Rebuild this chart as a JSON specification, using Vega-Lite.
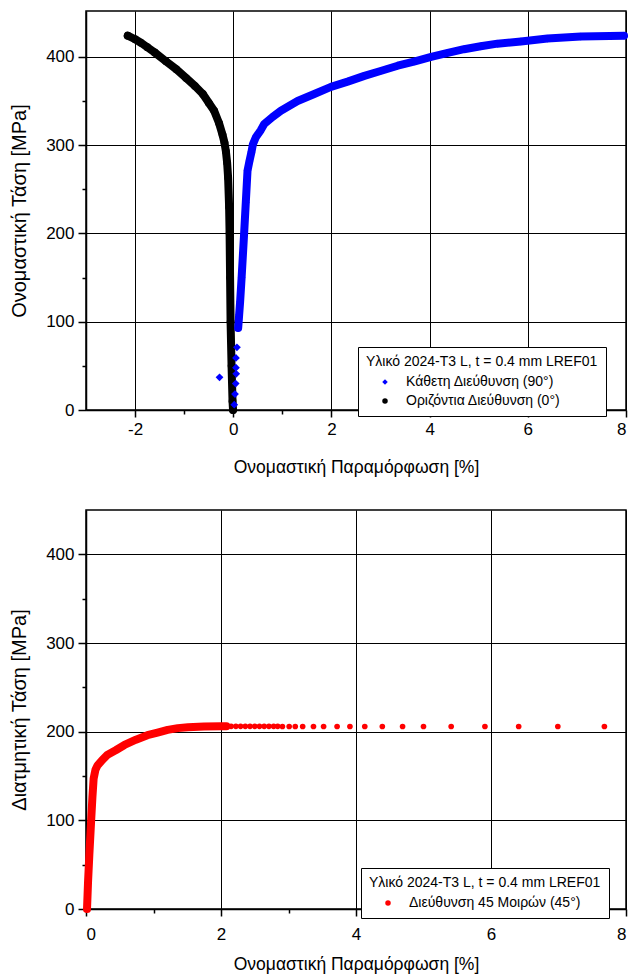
{
  "$schema": "https://vega.github.io/schema/vega-lite/v6.json",
  "padding": {"left": 8, "top": 10, "right": 3, "bottom": 0},
  "autosize": {"type": "pad"},
  "spacing": 32,
  "config": {
    "font": "Liberation Sans",
    "view": {"stroke": "black", "strokeWidth": 1.5},
    "axis": {
      "domainColor": "black", "domainWidth": 1.5,
      "tickColor": "black", "tickWidth": 1.5,
      "labelFont": "Liberation Sans", "labelFontSize": 17, "labelColor": "black",
      "titleFont": "Liberation Sans", "titleFontWeight": "normal", "titleColor": "black",
      "gridColor": "black", "gridWidth": 1
    },
    "legend": {
      "orient": "none",
      "strokeColor": "black", "fillColor": "white", "padding": 8,
      "titleFont": "Liberation Sans", "titleFontSize": 14, "titleFontWeight": "normal", "titleColor": "black",
      "labelFont": "Liberation Sans", "labelFontSize": 14, "labelColor": "black",
      "titleLimit": 600, "labelLimit": 600,
      "symbolOffset": 12, "labelOffset": 14, "rowPadding": 5, "titlePadding": 6,
      "symbolSize": 30, "symbolStrokeWidth": 0
    }
  },
  "datasets": {
    "top": [
      {"series": "Οριζόντια Διεύθυνση (0°)", "strain": -0.005, "stress": 0},
      {"series": "Οριζόντια Διεύθυνση (0°)", "strain": -0.015, "stress": 10},
      {"series": "Οριζόντια Διεύθυνση (0°)", "strain": -0.035, "stress": 50},
      {"series": "Οριζόντια Διεύθυνση (0°)", "strain": -0.055, "stress": 100},
      {"series": "Οριζόντια Διεύθυνση (0°)", "strain": -0.065, "stress": 150},
      {"series": "Οριζόντια Διεύθυνση (0°)", "strain": -0.075, "stress": 200},
      {"series": "Οριζόντια Διεύθυνση (0°)", "strain": -0.085, "stress": 230},
      {"series": "Οριζόντια Διεύθυνση (0°)", "strain": -0.105, "stress": 263},
      {"series": "Οριζόντια Διεύθυνση (0°)", "strain": -0.125, "stress": 280},
      {"series": "Οριζόντια Διεύθυνση (0°)", "strain": -0.15, "stress": 293},
      {"series": "Οριζόντια Διεύθυνση (0°)", "strain": -0.18, "stress": 303},
      {"series": "Οριζόντια Διεύθυνση (0°)", "strain": -0.22, "stress": 312},
      {"series": "Οριζόντια Διεύθυνση (0°)", "strain": -0.29, "stress": 325},
      {"series": "Οριζόντια Διεύθυνση (0°)", "strain": -0.39, "stress": 339},
      {"series": "Οριζόντια Διεύθυνση (0°)", "strain": -0.5, "stress": 348},
      {"series": "Οριζόντια Διεύθυνση (0°)", "strain": -0.62, "stress": 358},
      {"series": "Οριζόντια Διεύθυνση (0°)", "strain": -0.78, "stress": 367},
      {"series": "Οριζόντια Διεύθυνση (0°)", "strain": -0.96, "stress": 376},
      {"series": "Οριζόντια Διεύθυνση (0°)", "strain": -1.16, "stress": 386},
      {"series": "Οριζόντια Διεύθυνση (0°)", "strain": -1.37, "stress": 395},
      {"series": "Οριζόντια Διεύθυνση (0°)", "strain": -1.6, "stress": 405},
      {"series": "Οριζόντια Διεύθυνση (0°)", "strain": -1.75, "stress": 411},
      {"series": "Οριζόντια Διεύθυνση (0°)", "strain": -1.88, "stress": 416},
      {"series": "Οριζόντια Διεύθυνση (0°)", "strain": -2.0, "stress": 420},
      {"series": "Οριζόντια Διεύθυνση (0°)", "strain": -2.15, "stress": 424},
      {"series": "Κάθετη Διεύθυνση (90°)", "strain": -0.28, "stress": 37},
      {"series": "Κάθετη Διεύθυνση (90°)", "strain": 0.02, "stress": 6},
      {"series": "Κάθετη Διεύθυνση (90°)", "strain": 0.035, "stress": 18},
      {"series": "Κάθετη Διεύθυνση (90°)", "strain": 0.05, "stress": 30},
      {"series": "Κάθετη Διεύθυνση (90°)", "strain": 0.06, "stress": 41},
      {"series": "Κάθετη Διεύθυνση (90°)", "strain": 0.055, "stress": 48},
      {"series": "Κάθετη Διεύθυνση (90°)", "strain": 0.055, "stress": 59},
      {"series": "Κάθετη Διεύθυνση (90°)", "strain": 0.075, "stress": 71},
      {"series": "Κάθετη Διεύθυνση (90°)", "strain": 0.1, "stress": 93},
      {"series": "Κάθετη Διεύθυνση (90°)", "strain": 0.12, "stress": 108},
      {"series": "Κάθετη Διεύθυνση (90°)", "strain": 0.14, "stress": 123},
      {"series": "Κάθετη Διεύθυνση (90°)", "strain": 0.17, "stress": 150},
      {"series": "Κάθετη Διεύθυνση (90°)", "strain": 0.22, "stress": 199},
      {"series": "Κάθετη Διεύθυνση (90°)", "strain": 0.255, "stress": 235},
      {"series": "Κάθετη Διεύθυνση (90°)", "strain": 0.29, "stress": 271},
      {"series": "Κάθετη Διεύθυνση (90°)", "strain": 0.33, "stress": 282},
      {"series": "Κάθετη Διεύθυνση (90°)", "strain": 0.37, "stress": 292},
      {"series": "Κάθετη Διεύθυνση (90°)", "strain": 0.40, "stress": 301},
      {"series": "Κάθετη Διεύθυνση (90°)", "strain": 0.46, "stress": 309},
      {"series": "Κάθετη Διεύθυνση (90°)", "strain": 0.56, "stress": 317},
      {"series": "Κάθετη Διεύθυνση (90°)", "strain": 0.63, "stress": 324},
      {"series": "Κάθετη Διεύθυνση (90°)", "strain": 0.8, "stress": 332},
      {"series": "Κάθετη Διεύθυνση (90°)", "strain": 0.97, "stress": 339},
      {"series": "Κάθετη Διεύθυνση (90°)", "strain": 1.31, "stress": 350},
      {"series": "Κάθετη Διεύθυνση (90°)", "strain": 1.65, "stress": 358},
      {"series": "Κάθετη Διεύθυνση (90°)", "strain": 1.99, "stress": 366},
      {"series": "Κάθετη Διεύθυνση (90°)", "strain": 2.33, "stress": 372},
      {"series": "Κάθετη Διεύθυνση (90°)", "strain": 2.67, "stress": 378.5},
      {"series": "Κάθετη Διεύθυνση (90°)", "strain": 3.0, "stress": 384},
      {"series": "Κάθετη Διεύθυνση (90°)", "strain": 3.35, "stress": 390},
      {"series": "Κάθετη Διεύθυνση (90°)", "strain": 3.7, "stress": 395},
      {"series": "Κάθετη Διεύθυνση (90°)", "strain": 4.03, "stress": 400},
      {"series": "Κάθετη Διεύθυνση (90°)", "strain": 4.37, "stress": 404.5},
      {"series": "Κάθετη Διεύθυνση (90°)", "strain": 4.7, "stress": 408.7},
      {"series": "Κάθετη Διεύθυνση (90°)", "strain": 5.04, "stress": 412},
      {"series": "Κάθετη Διεύθυνση (90°)", "strain": 5.38, "stress": 415},
      {"series": "Κάθετη Διεύθυνση (90°)", "strain": 5.86, "stress": 417.5},
      {"series": "Κάθετη Διεύθυνση (90°)", "strain": 6.4, "stress": 420.8},
      {"series": "Κάθετη Διεύθυνση (90°)", "strain": 7.08, "stress": 423},
      {"series": "Κάθετη Διεύθυνση (90°)", "strain": 7.96, "stress": 424}
    ],
    "bottom": [
      {"series": "Διεύθυνση 45 Μοιρών (45°)", "strain": 0.015, "stress": 0},
      {"series": "Διεύθυνση 45 Μοιρών (45°)", "strain": 0.03, "stress": 30},
      {"series": "Διεύθυνση 45 Μοιρών (45°)", "strain": 0.05, "stress": 62},
      {"series": "Διεύθυνση 45 Μοιρών (45°)", "strain": 0.075, "stress": 98},
      {"series": "Διεύθυνση 45 Μοιρών (45°)", "strain": 0.095, "stress": 126},
      {"series": "Διεύθυνση 45 Μοιρών (45°)", "strain": 0.113, "stress": 147},
      {"series": "Διεύθυνση 45 Μοιρών (45°)", "strain": 0.14, "stress": 157},
      {"series": "Διεύθυνση 45 Μοιρών (45°)", "strain": 0.172, "stress": 162},
      {"series": "Διεύθυνση 45 Μοιρών (45°)", "strain": 0.24, "stress": 168},
      {"series": "Διεύθυνση 45 Μοιρών (45°)", "strain": 0.32, "stress": 174},
      {"series": "Διεύθυνση 45 Μοιρών (45°)", "strain": 0.44, "stress": 179},
      {"series": "Διεύθυνση 45 Μοιρών (45°)", "strain": 0.57, "stress": 185},
      {"series": "Διεύθυνση 45 Μοιρών (45°)", "strain": 0.74, "stress": 191},
      {"series": "Διεύθυνση 45 Μοιρών (45°)", "strain": 0.91, "stress": 196},
      {"series": "Διεύθυνση 45 Μοιρών (45°)", "strain": 1.06, "stress": 199},
      {"series": "Διεύθυνση 45 Μοιρών (45°)", "strain": 1.21, "stress": 202},
      {"series": "Διεύθυνση 45 Μοιρών (45°)", "strain": 1.36, "stress": 204},
      {"series": "Διεύθυνση 45 Μοιρών (45°)", "strain": 1.51, "stress": 205},
      {"series": "Διεύθυνση 45 Μοιρών (45°)", "strain": 1.75, "stress": 205.8},
      {"series": "Διεύθυνση 45 Μοιρών (45°)", "strain": 2.0, "stress": 206},
      {"series": "Διεύθυνση 45 Μοιρών (45°)", "strain": 2.08, "stress": 206},
      {"series": "Διεύθυνση 45 Μοιρών (45°)", "strain": 2.15, "stress": 206},
      {"series": "Διεύθυνση 45 Μοιρών (45°)", "strain": 2.22, "stress": 206},
      {"series": "Διεύθυνση 45 Μοιρών (45°)", "strain": 2.29, "stress": 206},
      {"series": "Διεύθυνση 45 Μοιρών (45°)", "strain": 2.36, "stress": 206},
      {"series": "Διεύθυνση 45 Μοιρών (45°)", "strain": 2.43, "stress": 206},
      {"series": "Διεύθυνση 45 Μοιρών (45°)", "strain": 2.5, "stress": 206},
      {"series": "Διεύθυνση 45 Μοιρών (45°)", "strain": 2.57, "stress": 206},
      {"series": "Διεύθυνση 45 Μοιρών (45°)", "strain": 2.64, "stress": 206},
      {"series": "Διεύθυνση 45 Μοιρών (45°)", "strain": 2.71, "stress": 206},
      {"series": "Διεύθυνση 45 Μοιρών (45°)", "strain": 2.78, "stress": 206},
      {"series": "Διεύθυνση 45 Μοιρών (45°)", "strain": 2.84, "stress": 206},
      {"series": "Διεύθυνση 45 Μοιρών (45°)", "strain": 2.91, "stress": 205.8},
      {"series": "Διεύθυνση 45 Μοιρών (45°)", "strain": 3.01, "stress": 205.8},
      {"series": "Διεύθυνση 45 Μοιρών (45°)", "strain": 3.1, "stress": 205.8},
      {"series": "Διεύθυνση 45 Μοιρών (45°)", "strain": 3.21, "stress": 205.8},
      {"series": "Διεύθυνση 45 Μοιρών (45°)", "strain": 3.37, "stress": 205.8},
      {"series": "Διεύθυνση 45 Μοιρών (45°)", "strain": 3.52, "stress": 205.8},
      {"series": "Διεύθυνση 45 Μοιρών (45°)", "strain": 3.72, "stress": 205.8},
      {"series": "Διεύθυνση 45 Μοιρών (45°)", "strain": 3.91, "stress": 205.8},
      {"series": "Διεύθυνση 45 Μοιρών (45°)", "strain": 4.13, "stress": 205.8},
      {"series": "Διεύθυνση 45 Μοιρών (45°)", "strain": 4.39, "stress": 205.8},
      {"series": "Διεύθυνση 45 Μοιρών (45°)", "strain": 4.69, "stress": 205.8},
      {"series": "Διεύθυνση 45 Μοιρών (45°)", "strain": 5.0, "stress": 205.8},
      {"series": "Διεύθυνση 45 Μοιρών (45°)", "strain": 5.41, "stress": 205.8},
      {"series": "Διεύθυνση 45 Μοιρών (45°)", "strain": 5.91, "stress": 205.8},
      {"series": "Διεύθυνση 45 Μοιρών (45°)", "strain": 6.41, "stress": 205.8},
      {"series": "Διεύθυνση 45 Μοιρών (45°)", "strain": 6.99, "stress": 205.8},
      {"series": "Διεύθυνση 45 Μοιρών (45°)", "strain": 7.68, "stress": 205.8}
    ]
  },
  "vconcat": [
    {
      "width": 540,
      "height": 399,
      "data": {"name": "top"},
      "encoding": {
        "x": {
          "field": "strain", "type": "quantitative",
          "scale": {"domain": [-3, 8], "nice": false, "zero": false},
          "axis": {
            "title": "Ονομαστική Παραμόρφωση [%]",
            "titleFontSize": 17.5, "titlePadding": 21, "labelPadding": 4,
            "values": [-2, -1, 0, 1, 2, 3, 4, 5, 6, 7, 8],
            "labelExpr": "datum.value % 2 === 0 ? '' + datum.value : ''",
            "tickSize": {"condition": {"test": "datum.value % 2 !== 0", "value": 4}, "value": 7},
            "gridOpacity": {"condition": {"test": "datum.value % 2 !== 0", "value": 0}, "value": 1}
          }
        },
        "y": {
          "field": "stress", "type": "quantitative",
          "scale": {"domain": [0, 452], "nice": false},
          "axis": {
            "title": "Ονομαστική Τάση [MPa]",
            "titleFontSize": 20, "titlePadding": 16, "labelPadding": 4,
            "values": [0, 50, 100, 150, 200, 250, 300, 350, 400],
            "labelExpr": "datum.value % 100 === 0 ? '' + datum.value : ''",
            "tickSize": {"condition": {"test": "datum.value % 100 !== 0", "value": 4}, "value": 8},
            "gridOpacity": {"condition": {"test": "datum.value % 100 !== 0 || datum.value === 0", "value": 0}, "value": 1}
          }
        }
      },
      "layer": [
        {
          "transform": [{"filter": "datum.series === 'Οριζόντια Διεύθυνση (0°)'"}],
          "mark": {"type": "line", "color": "black", "strokeWidth": 8, "strokeCap": "round", "strokeJoin": "round"}
        },
        {
          "transform": [{"filter": "datum.series === 'Κάθετη Διεύθυνση (90°)' && datum.stress >= 90"}],
          "mark": {"type": "line", "color": "#0000ff", "strokeWidth": 8, "strokeCap": "round", "strokeJoin": "round"}
        },
        {
          "mark": {"type": "point", "filled": true, "opacity": 1, "size": 60},
          "encoding": {
            "color": {
              "field": "series", "type": "nominal",
              "scale": {"domain": ["Κάθετη Διεύθυνση (90°)", "Οριζόντια Διεύθυνση (0°)"], "range": ["#0000ff", "black"]},
              "legend": {"title": "Υλικό 2024-T3 L, t = 0.4 mm LREF01", "legendX": 272, "legendY": 336, "symbolSize": 30}
            },
            "shape": {
              "field": "series", "type": "nominal",
              "scale": {"domain": ["Κάθετη Διεύθυνση (90°)", "Οριζόντια Διεύθυνση (0°)"], "range": ["diamond", "circle"]},
              "legend": {"title": "Υλικό 2024-T3 L, t = 0.4 mm LREF01", "legendX": 272, "legendY": 336, "symbolSize": 30}
            }
          }
        }
      ]
    },
    {
      "width": 540,
      "height": 399,
      "data": {"name": "bottom"},
      "encoding": {
        "x": {
          "field": "strain", "type": "quantitative",
          "scale": {"domain": [0, 8], "nice": false, "zero": false},
          "axis": {
            "title": "Ονομαστική Παραμόρφωση [%]",
            "titleFontSize": 17.5, "titlePadding": 13, "labelPadding": 10,
            "values": [0, 1, 2, 3, 4, 5, 6, 7, 8],
            "labelExpr": "datum.value % 2 === 0 ? '' + datum.value : ''",
            "tickSize": {"condition": {"test": "datum.value % 2 !== 0", "value": 4}, "value": 7},
            "gridOpacity": {"condition": {"test": "datum.value % 2 !== 0 || datum.value === 0", "value": 0}, "value": 1}
          }
        },
        "y": {
          "field": "stress", "type": "quantitative",
          "scale": {"domain": [0, 450], "nice": false},
          "axis": {
            "title": "Διατμητική Τάση [MPa]",
            "titleFontSize": 20, "titlePadding": 16, "labelPadding": 4,
            "values": [0, 50, 100, 150, 200, 250, 300, 350, 400],
            "labelExpr": "datum.value % 100 === 0 ? '' + datum.value : ''",
            "tickSize": {"condition": {"test": "datum.value % 100 !== 0", "value": 4}, "value": 8},
            "gridOpacity": {"condition": {"test": "datum.value % 100 !== 0 || datum.value === 0", "value": 0}, "value": 1}
          }
        }
      },
      "layer": [
        {
          "transform": [{"filter": "datum.strain <= 2.1"}],
          "mark": {"type": "line", "color": "#ff0000", "strokeWidth": 8, "strokeCap": "round", "strokeJoin": "round"}
        },
        {
          "mark": {"type": "point", "filled": true, "opacity": 1, "size": 32, "shape": "circle"},
          "encoding": {
            "color": {
              "field": "series", "type": "nominal",
              "scale": {"domain": ["Διεύθυνση 45 Μοιρών (45°)"], "range": ["#ff0000"]},
              "legend": {"title": "Υλικό 2024-T3 L, t = 0.4 mm LREF01", "legendX": 275, "legendY": 358, "symbolType": "circle"}
            }
          }
        }
      ]
    }
  ],
  "resolve": {"scale": {"color": "independent", "shape": "independent"}, "legend": {"color": "independent", "shape": "independent"}}
}
